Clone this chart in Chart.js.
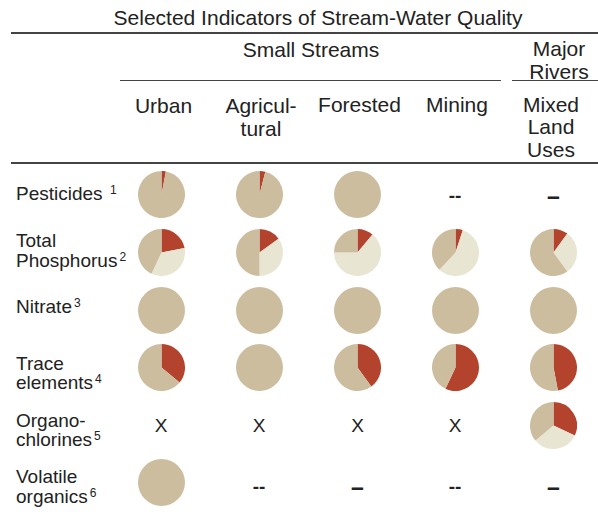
<!DOCTYPE html>
<html>
<head>
<meta charset="utf-8">
<script src="https://cdn.jsdelivr.net/npm/chart.js@4"></script>
<style>
	html, body { margin: 0; padding: 0; background: #fff; }
	#board { position: relative; width: 598px; height: 512px; overflow: hidden;
		font-family: "Liberation Sans", Arial, Helvetica, sans-serif; color: #222; }
	.t { position: absolute; white-space: nowrap; transform: translate( -50%, -50% ); text-align: center; line-height: 22.5px; font-size: 21px; }
	.row { position: absolute; left: 16px; white-space: nowrap; font-size: 19px; line-height: 19.3px; transform: translateY( -50% ); }
	.row sup { font-size: 12px; position: relative; top: 0px; margin-left: 2px; vertical-align: top; line-height: 12px; }
	.rule { position: absolute; background: #444; }
	.mark { position: absolute; transform: translate( -50%, -50% ); white-space: nowrap; }
	.pie { position: absolute; }
</style>
</head>
<body>
<div id="board"></div>
<script>

// land-use columns
const columns = [ 'Urban', 'Agricul-\ntural', 'Forested', 'Mining', 'Mixed\nLand\nUses' ];

// indicators (rows) and their note numbers
const indicators = [ 'Pesticides', 'Total\nPhosphorus', 'Nitrate', 'Trace\nelements', 'Organo-\nchlorines', 'Volatile\norganics' ];
const notes = [ '1', '2', '3', '4', '5', '6' ];

// share of sites (percent) per cell; null = no pie, see cellMarks
const redShare = [
	[ 3, 4, 0, null, null ],
	[ 22, 15, 11, 5, 10 ],
	[ 0, 0, 0, 0, 0 ],
	[ 36, 0, 40, 57, 47 ],
	[ null, null, null, null, 32 ],
	[ 0, null, null, null, null ]
];
const creamShare = [
	[ 0, 0, 0, null, null ],
	[ 35, 35, 64, 57, 30 ],
	[ 0, 0, 0, 0, 0 ],
	[ 0, 0, 0, 0, 0 ],
	[ null, null, null, null, 32 ],
	[ 0, null, null, null, null ]
];
const tanShare = [
	[ 97, 96, 100, null, null ],
	[ 43, 50, 25, 38, 60 ],
	[ 100, 100, 100, 100, 100 ],
	[ 64, 100, 60, 43, 53 ],
	[ null, null, null, null, 36 ],
	[ 100, null, null, null, null ]
];

// text shown in cells without a pie
const cellMarks = [
	[ '', '', '', '--', '–' ],
	[ '', '', '', '', '' ],
	[ '', '', '', '', '' ],
	[ '', '', '', '', '' ],
	[ 'X', 'X', 'X', 'X', '' ],
	[ '', '--', '–', '--', '–' ]
];

const colours = [ '#b4432d', '#e9e5d3', '#cdbd9f' ];

const board = document.getElementById( 'board' );

const colX = [ 161, 259, 357.5, 455, 553.5 ];
const rowY = [ 194.5, 252.5, 310, 367.7, 425, 482.7 ];
const labelY = [ 194.3, 250.3, 307, 373, 429.5, 486.3 ];
const headX = [ 163.5, 261, 359.5, 457, 551 ];
const headY = [ 106, 117, 105, 105, 127.5 ];
const radius = 23.5;

function addText ( cls, text, x, y, css = {} ) {

	const el = document.createElement( 'div' );
	el.className = cls;
	el.innerHTML = text.replace( /\n/g, '<br>' );
	if ( x !== null ) el.style.left = x + 'px';
	el.style.top = y + 'px';
	Object.assign( el.style, css );
	board.appendChild( el );
	return el;

}

function addRule ( x1, x2, y, h ) {

	const el = document.createElement( 'div' );
	el.className = 'rule';
	el.style.left = x1 + 'px';
	el.style.width = ( x2 - x1 ) + 'px';
	el.style.top = ( y - h / 2 ) + 'px';
	el.style.height = h + 'px';
	board.appendChild( el );

}

// header
addText( 't', 'Selected Indicators of Stream-Water Quality', 318, 18 );
addRule( 11, 598, 32.5, 2 );
addText( 't', 'Small Streams', 311, 50 );
addText( 't', 'Major\nRivers', 559, 60 );
addRule( 120, 501, 80.5, 1.5 );
addRule( 512, 598, 80.5, 1.5 );

columns.forEach( ( c, i ) => addText( 't', c, headX[ i ], headY[ i ] ) );

addRule( 11, 598, 162.5, 2 );

// row labels
indicators.forEach( ( name, r ) => {

	const lines = name.split( '\n' );
	lines[ lines.length - 1 ] += ( r == 0 ? ' ' : '' ) + '<sup>' + notes[ r ] + '</sup>';
	addText( 'row', lines.join( '\n' ), null, labelY[ r ] );

} );

// cells
indicators.forEach( ( name, r ) => {

	columns.forEach( ( col, c ) => {

		if ( tanShare[ r ][ c ] === null ) {

			const m = cellMarks[ r ][ c ];
			const css = m == 'X'
				? { fontSize: '19px' }
				: { fontSize: m == '--' ? '19px' : '23px', fontWeight: 'bold' };
			addText( 'mark', m, colX[ c ], m == 'X' ? 425.5 : ( r == 0 ? 196 : 487.3 ), css );
			return;

		}

		const canvas = document.createElement( 'canvas' );
		canvas.className = 'pie';
		canvas.width = radius * 2;
		canvas.height = radius * 2;
		canvas.style.left = ( colX[ c ] - radius ) + 'px';
		canvas.style.top = ( rowY[ r ] - radius ) + 'px';
		board.appendChild( canvas );

		new Chart( canvas, {
			type: 'pie',
			data: {
				labels: [ 'red', 'cream', 'tan' ],
				datasets: [ {
					data: [ redShare[ r ][ c ], creamShare[ r ][ c ], tanShare[ r ][ c ] ],
					backgroundColor: colours,
					borderWidth: 0
				} ]
			},
			options: {
				responsive: false,
				animation: false,
				events: [],
				layout: { padding: 0 },
				plugins: {
					legend: { display: false },
					tooltip: { enabled: false }
				}
			}
		} );

	} );

} );

</script>
</body>
</html>
